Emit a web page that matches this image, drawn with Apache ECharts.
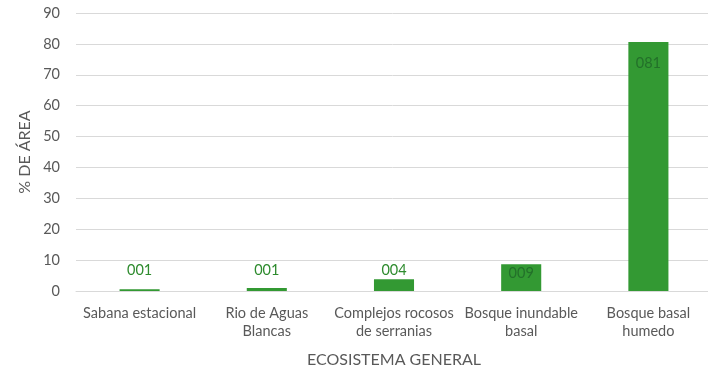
<!DOCTYPE html>
<html>
<head>
<meta charset="utf-8">
<script src="https://cdn.jsdelivr.net/npm/echarts@6/dist/echarts.min.js"></script>
<style>
  html, body { margin: 0; padding: 0; background: #fff; }
  #chart { width: 708px; height: 368px; }
</style>
</head>
<body>
<div id="chart"></div>
<script>
// datos
const categorias = [
  "Sabana estacional",
  "Rio de Aguas\nBlancas",
  "Complejos rocosos\nde serranias",
  "Bosque inundable\nbasal",
  "Bosque basal\nhumedo"
];
const porcentajeArea = [0.6, 1.0, 3.8, 8.7, 80.6];
const yTicks = [0, 10, 20, 30, 40, 50, 60, 70, 80, 90];

const FONT = "Lato";
const GRIS = "#595959";
const VERDE = "#339933";

const chart = echarts.init(document.getElementById("chart"));

const fmt = (v) => String(Math.round(v)).padStart(3, "0");

const barData = porcentajeArea.map((v) => {
  // etiquetas chicas fuera de la barra, grandes adentro
  const dentro = v >= 5;
  return {
    value: v,
    label: dentro
      ? { position: "insideTop", distance: v > 50 ? 14 : 2, color: "#23702a" }
      : { position: "insideBottom", distance: 13, color: "#2e8b2e" }
  };
});

chart.setOption({
  animation: false,
  grid: { left: 76, top: 13, width: 636, bottom: 77, outerBoundsMode: "none", containLabel: false },
  xAxis: {
    type: "category",
    data: categorias,
    name: "ECOSISTEMA GENERAL",
    nameLocation: "middle",
    nameGap: 61,
    nameTextStyle: { color: GRIS, fontFamily: FONT, fontSize: 16 },
    axisLine: { lineStyle: { color: "#d9d9d9" } },
    axisTick: { show: false },
    axisLabel: {
      color: GRIS, fontFamily: FONT, fontSize: 14.5,
      margin: 13, lineHeight: 18, interval: 0
    }
  },
  yAxis: {
    type: "value",
    min: yTicks[0],
    max: yTicks[yTicks.length - 1],
    interval: 10,
    name: "% DE ÁREA",
    nameLocation: "middle",
    nameGap: 43,
    nameMoveOverlap: false,
    nameTextStyle: { color: GRIS, fontFamily: FONT, fontSize: 16 },
    axisLine: { show: false },
    axisTick: { show: false },
    axisLabel: { color: GRIS, fontFamily: FONT, fontSize: 14.5, margin: 16 },
    splitLine: { lineStyle: { color: "#d9d9d9", width: 1 } }
  },
  series: [{
    type: "bar",
    data: barData,
    barWidth: "31.5%",
    itemStyle: { color: VERDE },
    label: {
      show: true,
      fontFamily: FONT,
      fontSize: 14.5,
      formatter: (p) => fmt(p.value)
    }
  }]
});
</script>
</body>
</html>
